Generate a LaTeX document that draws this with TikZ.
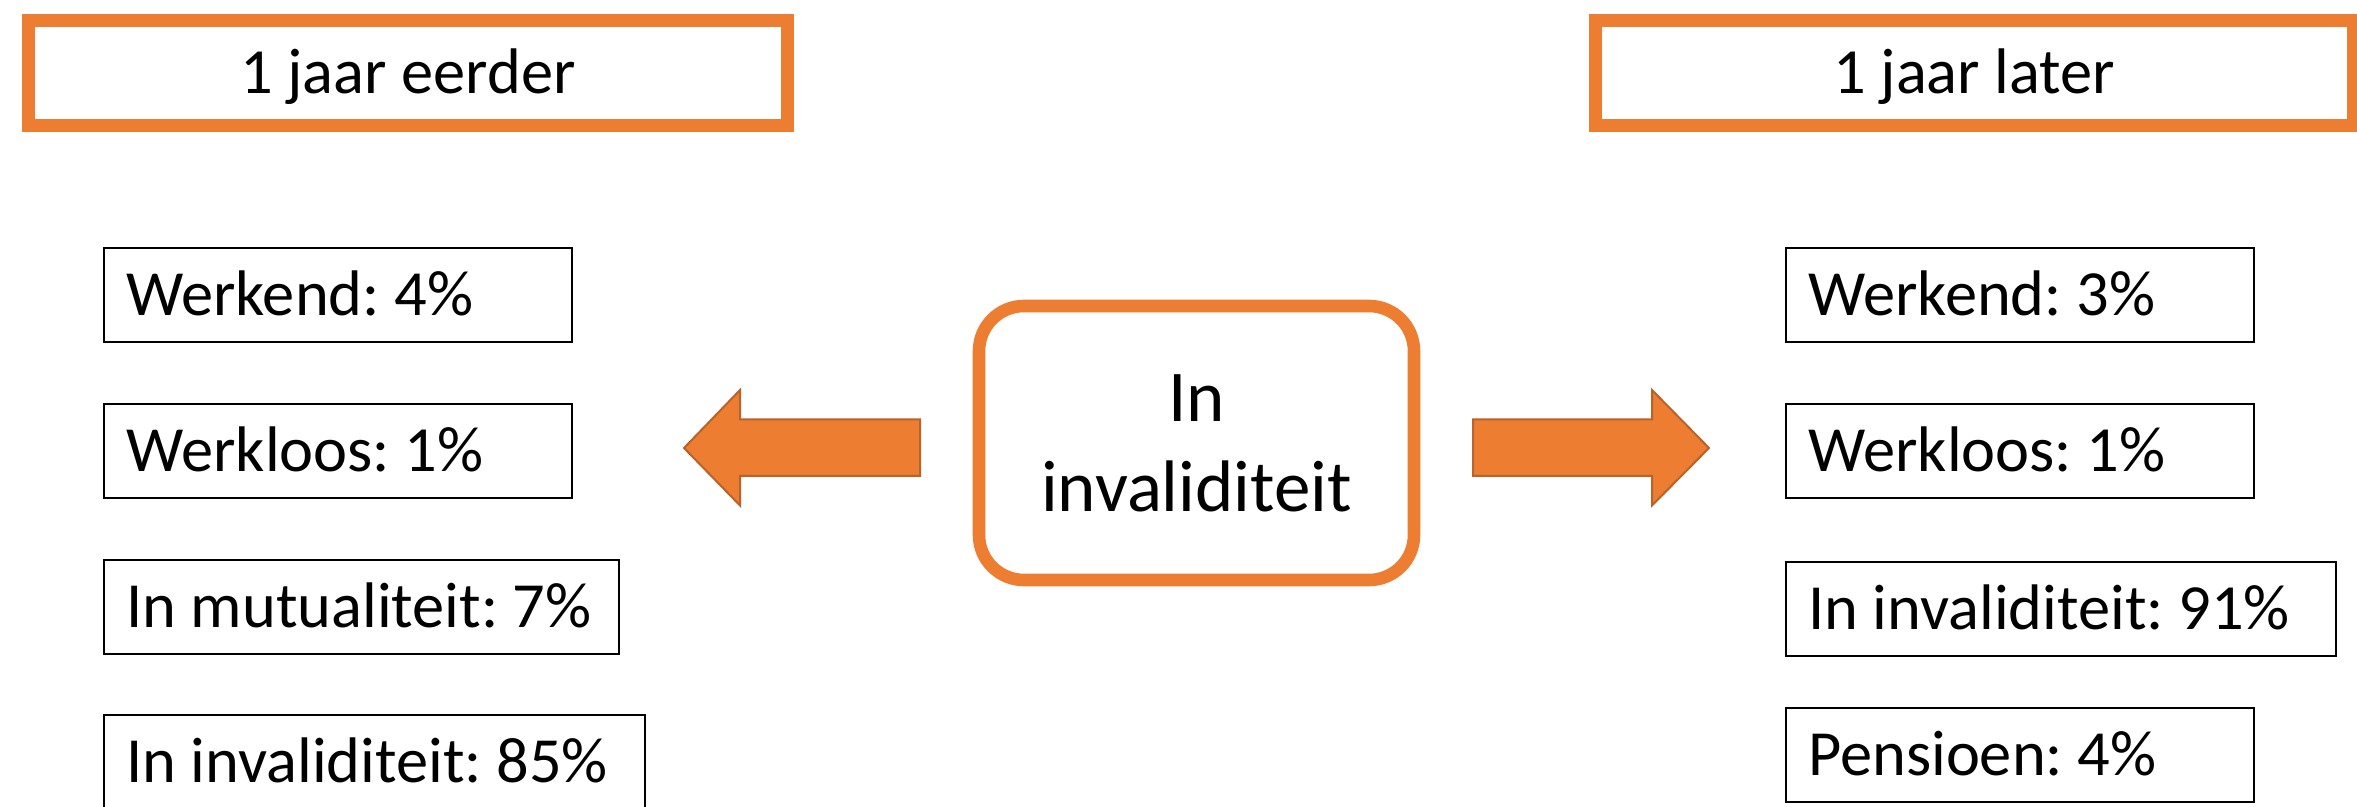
\documentclass[tikz,border=0pt]{standalone}
\usepackage{fontspec}
\setmainfont{Carlito}
\definecolor{acc}{HTML}{ED7D31}
\definecolor{accdark}{HTML}{B9622A}
\begin{document}
\frenchspacing
\begin{tikzpicture}[x=0.5pt,y=-0.5pt,
  hdr/.style={draw=acc, line width=6.3pt, rectangle, anchor=north west,
    minimum height=52.5pt, inner sep=0pt, text height=20.4pt, text depth=0pt,
    font=\fontsize{32.2}{38}\selectfont\frenchspacing},
  sbox/.style={draw=black, line width=1.2pt, rectangle, anchor=north west,
    minimum height=47pt, inner xsep=11pt, inner ysep=0pt, align=flush left,
    text height=20.4pt, text depth=0pt, font=\fontsize{32.2}{38}\selectfont\frenchspacing},
  centre/.style={draw=acc, line width=6.3pt, rectangle, rounded corners=22.5pt,
    minimum width=217.5pt, minimum height=137pt, inner sep=0pt, align=center,
    font=\fontsize{36.5}{45}\selectfont},
  blockarrow/.style={fill=acc, draw=accdark, line width=1pt, line join=miter}]
\useasboundingbox (0,0) rectangle (2357,807);

% headers
\node[hdr, minimum width=379.5pt] (hl) at (22,14) {1 jaar eerder};
\node[hdr, minimum width=379pt] (hr) at (1589,14) {1 jaar later};

% left column
\node[sbox, text width=212pt] (l1) at (103,247) {\mbox{Werkend: 4\%}};
\node[sbox, text width=212pt] (l2) at (103,403) {\mbox{Werkloos: 1\%}};
\node[sbox, text width=235.5pt] (l3) at (103,559) {\mbox{In mutualiteit: 7\%}};
\node[sbox, text width=248.5pt] (l4) at (103,714) {\mbox{In invaliditeit: 85\%}};

% right column
\node[sbox, text width=212pt] (r1) at (1785,247) {\mbox{Werkend: 3\%}};
\node[sbox, text width=212pt] (r2) at (1785,403) {\mbox{Werkloos: 1\%}};
\node[sbox, text width=253pt] (r3) at (1785,561) {\mbox{In invaliditeit: 91\%}};
\node[sbox, text width=212pt] (r4) at (1785,706.5) {\mbox{Pensioen: 4\%}};

% centre
\node[centre] (c) at (1196.5,443) {In\\invaliditeit};

% block arrows
\draw[blockarrow] (920,419.5) -- (740,419.5) -- (740,390) -- (684,448)
  -- (740,505.5) -- (740,476) -- (920,476) -- cycle;
\draw[blockarrow] (1473,419.5) -- (1652,419.5) -- (1652,390) -- (1709,448)
  -- (1652,505.5) -- (1652,476) -- (1473,476) -- cycle;
\end{tikzpicture}
\end{document}
